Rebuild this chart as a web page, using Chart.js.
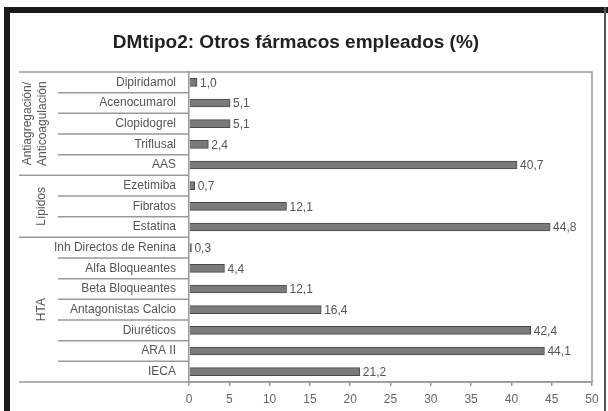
<!DOCTYPE html>
<html>
<head>
<meta charset="utf-8">
<script src="https://cdn.jsdelivr.net/npm/chart.js@4/dist/chart.umd.min.js"></script>
<style>
  body { margin: 0; background: #fff; }
  canvas { display: block; }
</style>
</head>
<body>
<canvas id="farmacosChart" width="608" height="411"></canvas>
<script>
// Data
const categories = [
    'Dipiridamol', 'Acenocumarol', 'Clopidogrel', 'Triflusal', 'AAS',
    'Ezetimiba', 'Fibratos', 'Estatina',
    'Inh Directos de Renina', 'Alfa Bloqueantes', 'Beta Bloqueantes',
    'Antagonistas Calcio', 'Diuréticos', 'ARA II', 'IECA'
];
const values = [1.0, 5.1, 5.1, 2.4, 40.7, 0.7, 12.1, 44.8, 0.3, 4.4, 12.1, 16.4, 42.4, 44.1, 21.2];
const groupNames = [['Antiagregación/', 'Anticoagulación'], ['Lípidos'], ['HTA']];
const groupSizes = [5, 3, 7];
const xTicks = [0, 5, 10, 15, 20, 25, 30, 35, 40, 45, 50];

const FONT = '"Liberation Sans", Arial, sans-serif';

// frame, separators, group labels and value labels
const decorPlugin = {
    id: 'decor',
    beforeDraw(chart) {
        const ctx = chart.ctx;
        ctx.save();
        ctx.fillStyle = '#1a1a1a';
        ctx.fillRect(4, 7, 604, 6);
        ctx.fillRect(4, 7, 6, 404);
        ctx.fillStyle = '#555';
        ctx.fillRect(604, 7, 2, 404);
        ctx.restore();
    },
    afterDraw(chart) {
        const ctx = chart.ctx;
        const area = chart.chartArea;
        const y = chart.scales.y;
        const x = chart.scales.x;
        const boxLeft = 19, subLeft = 58;
        ctx.save();
        ctx.lineWidth = 1.5;
        ctx.strokeStyle = '#999';
        // outer box
        ctx.beginPath();
        ctx.moveTo(boxLeft, area.top);
        ctx.lineTo(area.right, area.top);
        ctx.lineTo(area.right, area.bottom);
        ctx.lineTo(boxLeft, area.bottom);
        ctx.stroke();

        // row separators in the label column
        let idx = 0;
        const bounds = [];
        groupSizes.forEach((size) => {
            const start = idx;
            for (let k = 0; k < size; k++, idx++) {
                if (idx === categories.length - 1) continue;
                const yy = (y.getPixelForValue(idx) + y.getPixelForValue(idx + 1)) / 2;
                const last = k === size - 1;
                ctx.beginPath();
                ctx.moveTo(last ? boxLeft : subLeft, yy);
                ctx.lineTo(area.left, yy);
                ctx.stroke();
            }
            bounds.push([start, idx - 1]);
        });

        // group labels, rotated
        ctx.fillStyle = '#555';
        ctx.font = '12px ' + FONT;
        ctx.textAlign = 'center';
        ctx.textBaseline = 'middle';
        bounds.forEach((b, g) => {
            const cy = (y.getPixelForValue(b[0]) + y.getPixelForValue(b[1])) / 2;
            const lines = groupNames[g];
            lines.forEach((txt, i) => {
                const cx = lines.length === 1 ? 42 : 28 + i * 15;
                ctx.save();
                ctx.translate(cx, cy);
                ctx.rotate(-Math.PI / 2);
                ctx.fillText(txt, 0, 0);
                ctx.restore();
            });
        });

        // value labels
        ctx.textAlign = 'left';
        ctx.fillStyle = '#555';
        values.forEach((v, i) => {
            ctx.fillText(v.toFixed(1).replace('.', ','), x.getPixelForValue(v) + 3, y.getPixelForValue(i) + 1);
        });
        ctx.restore();
    }
};

const config = {
    type: 'bar',
    data: {
        labels: categories,
        datasets: [{
            data: values,
            backgroundColor: '#7a7a7a',
            borderColor: '#4a4a4a',
            borderWidth: 1,
            barThickness: 8
        }]
    },
    options: {
        indexAxis: 'y',
        responsive: false,
        animation: false,
        layout: {
            padding: { left: 0, right: 16, top: 0, bottom: 0 }
        },
        plugins: {
            legend: { display: false },
            tooltip: { enabled: false },
            title: {
                display: true,
                text: 'DMtipo2: Otros fármacos empleados (%)',
                color: '#222',
                font: { family: FONT, size: 19, weight: 'bold', lineHeight: 1.2 },
                padding: { top: 31, bottom: 18.2 }
            }
        },
        scales: {
            x: {
                min: 0,
                max: 50,
                afterFit(scale) { scale.height = 29; },
                afterBuildTicks(scale) { scale.ticks = xTicks.map(v => ({ value: v })); },
                grid: {
                    drawOnChartArea: false,
                    drawTicks: true,
                    tickLength: 4,
                    color: '#999',
                    lineWidth: 1.5
                },
                border: { display: true, color: '#999', width: 1.5 },
                ticks: {
                    padding: 6,
                    color: '#666',
                    font: { family: FONT, size: 12 }
                }
            },
            y: {
                afterFit(scale) { scale.width = 189; },
                grid: { display: false },
                border: { display: true, color: '#999', width: 1.5 },
                ticks: {
                    padding: 5,
                    color: '#555',
                    autoSkip: false,
                    font: { family: FONT, size: 12 }
                }
            }
        }
    },
    plugins: [decorPlugin]
};

new Chart(document.getElementById('farmacosChart').getContext('2d'), config);
</script>
</body>
</html>
